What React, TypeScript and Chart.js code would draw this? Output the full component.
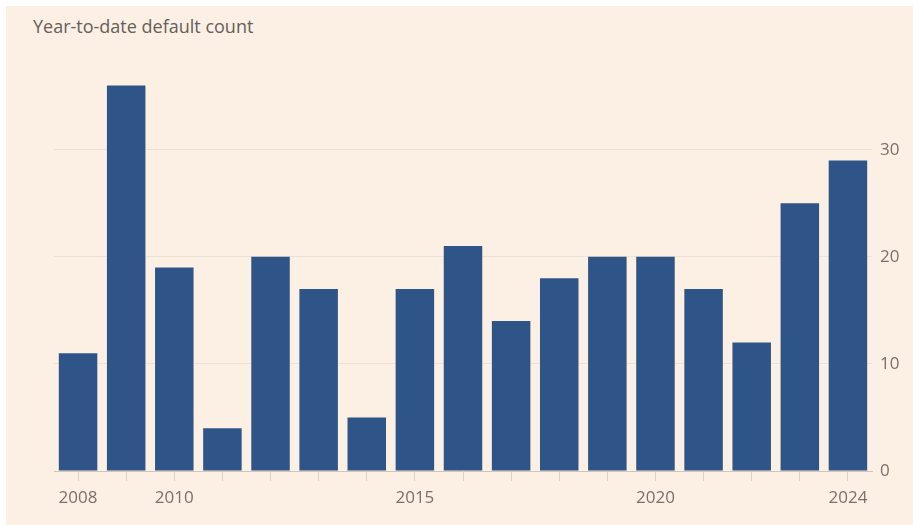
import React, { useEffect, useRef } from "react";
import { Chart, registerables } from "chart.js";

Chart.register(...registerables);

const years = ["2008","2009","2010","2011","2012","2013","2014","2015","2016","2017","2018","2019","2020","2021","2022","2023","2024"];
const defaults = [11, 36, 19, 4, 20, 17, 5, 17, 21, 14, 18, 20, 20, 17, 12, 25, 29];
const shownYears = ["2008", "2010", "2015", "2020", "2024"];
const yTicks = [0, 10, 20, 30];
const title = "Year-to-date default count";

const BG = "#fcefe4";
const BAR = "#2f5487";
const TEXT = "#79716b";
const FONT = "'Open Sans', sans-serif";

export default function App() {
  const ref = useRef<HTMLCanvasElement | null>(null);
  useEffect(() => {
    if (!ref.current) return;
    const chart = new Chart(ref.current, {
      type: "bar",
      data: {
        labels: years,
        datasets: [{ data: defaults, backgroundColor: BAR, barPercentage: 0.8, categoryPercentage: 1 }],
      },
      options: {
        animation: false,
        responsive: false,
        maintainAspectRatio: false,
        layout: { padding: { left: 48, top: 58, right: 0, bottom: 0 } },
        plugins: { legend: { display: false }, tooltip: { enabled: false } },
        scales: {
          x: {
            offset: true,
            grid: { offset: false, drawOnChartArea: false, drawTicks: true, tickLength: 10, color: "#ddd2c7" },
            border: { display: true, color: "#cfc5bb" },
            ticks: {
              autoSkip: false,
              maxRotation: 0,
              padding: 7,
              color: TEXT,
              font: { family: FONT, size: 17 },
              callback: (_v: any, i: number) => (shownYears.includes(years[i]) ? years[i] : ""),
            },
            afterFit: (s: any) => { s.height = 54; },
          },
          y: {
            position: "right",
            min: 0,
            max: 38,
            afterBuildTicks: (s: any) => { s.ticks = yTicks.map((v) => ({ value: v })); },
            grid: { drawTicks: false, color: (c: any) => (c.tick && c.tick.value === 0 ? "rgba(0,0,0,0)" : "#eee0d3"), lineWidth: 1 },
            border: { display: false },
            ticks: { padding: 8, color: TEXT, font: { family: FONT, size: 17 } },
            afterFit: (s: any) => { s.width = 41; },
          },
        },
      },
    });
    return () => chart.destroy();
  }, []);
  return (
    <div style={{ position: "absolute", left: 6, top: 6, width: 907, height: 519, background: BG }}>
      <div style={{ position: "absolute", left: 27, top: 8, fontFamily: FONT, fontSize: 18, color: "#66605a" }}>{title}</div>
      <canvas ref={ref} width={907} height={519} style={{ position: "absolute", left: 0, top: 0 }} />
    </div>
  );
}
